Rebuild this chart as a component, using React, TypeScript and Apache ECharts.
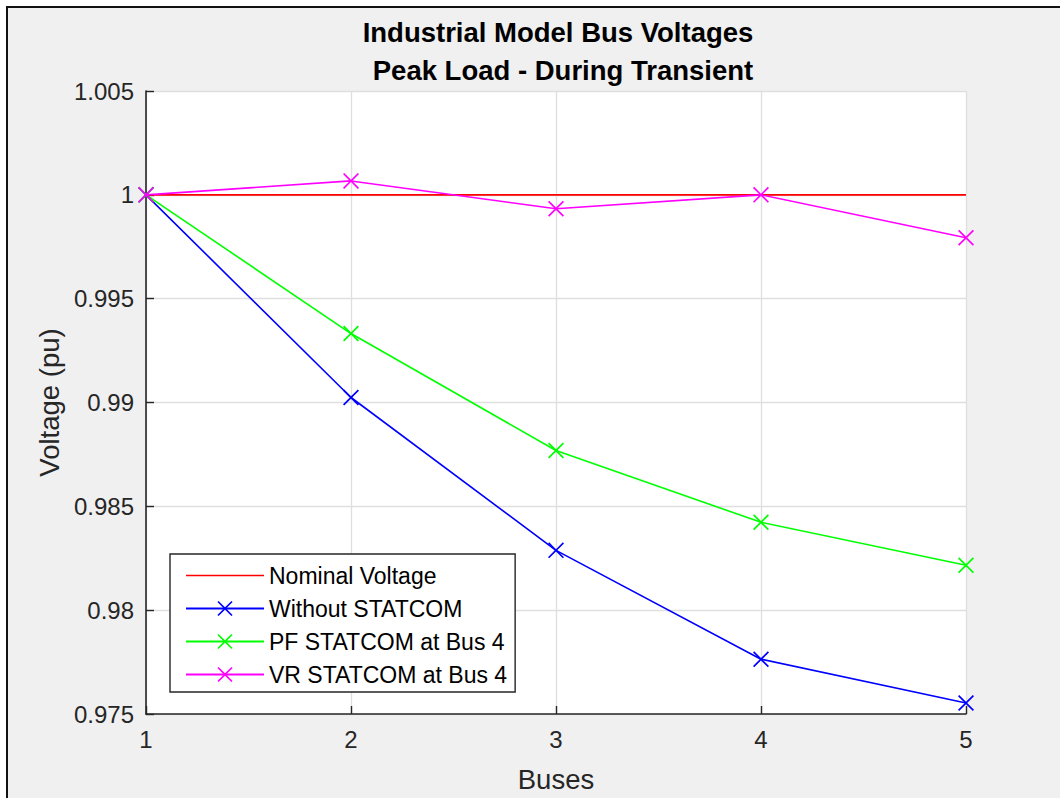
import React, { useEffect, useRef } from 'react';
import * as echarts from 'echarts';

const buses = [1, 2, 3, 4, 5];
const nominalVoltage = [1, 1, 1, 1, 1];
const withoutStatcom = [1, 0.99024, 0.98288, 0.97764, 0.97553];
const pfStatcom = [1, 0.99332, 0.98769, 0.98423, 0.98216];
const vrStatcom = [1, 1.00067, 0.99933, 1.0, 0.99793];
const seriesNames = ['Nominal Voltage', 'Without STATCOM', 'PF STATCOM at Bus 4', 'VR STATCOM at Bus 4'];
const seriesColors = ['#ff0000', '#0000ff', '#00ff00', '#ff00ff'];
const titleLines = ['Industrial Model Bus Voltages', 'Peak Load - During Transient'];
const xLabel = 'Buses';
const yLabel = 'Voltage (pu)';

const X_SYMBOL = 'path://M0,0.75L0.75,0L5,4.25L9.25,0L10,0.75L5.75,5L10,9.25L9.25,10L5,5.75L0.75,10L0,9.25L4.25,5Z';
const LINE_ICON = 'path://M0,0L78,0L78,1.6L0,1.6Z';
const FONT = '"Liberation Sans", Arial, Helvetica, sans-serif';
const INK = '#262626';

export default function App() {
  const ref = useRef<HTMLDivElement>(null);
  useEffect(() => {
    if (!ref.current) return;
    const chart = echarts.init(ref.current, undefined, { renderer: 'svg' });
    const allData = [nominalVoltage, withoutStatcom, pfStatcom, vrStatcom];
    const series = allData.map((vals, i) => ({
      name: seriesNames[i],
      type: 'line',
      data: buses.map((b, j) => [b, vals[j]]),
      symbol: i === 0 ? 'none' : X_SYMBOL,
      symbolSize: 16,
      showSymbol: i !== 0,
      lineStyle: { color: seriesColors[i], width: 1.6 },
      itemStyle: { color: seriesColors[i] },
      emphasis: { disabled: true },
      z: 3 + i,
    }));
    chart.setOption({
      animation: false,
      textStyle: { fontFamily: FONT },
      title: [
        {
          text: titleLines[0],
          left: 553,
          top: 13,
          textAlign: 'center',
          textStyle: { fontFamily: FONT, fontWeight: 'bold', fontSize: 27.5, color: '#000' },
        },
        {
          text: titleLines[1],
          left: 558,
          top: 51,
          textAlign: 'center',
          textStyle: { fontFamily: FONT, fontWeight: 'bold', fontSize: 27.5, color: '#000' },
        },
      ],
      grid: {
        left: 146,
        top: 91,
        width: 820,
        height: 624,
        show: true,
        backgroundColor: '#ffffff',
        borderWidth: 0,
      },
      legend: {
        orient: 'vertical',
        left: 170,
        top: 554,
        padding: [10, 8, 6, 15],
        itemWidth: 78,
        itemHeight: 19,
        itemGap: 10,
        backgroundColor: '#ffffff',
        borderColor: INK,
        borderWidth: 1.4,
        borderRadius: 0,
        selectedMode: false,
        textStyle: { fontFamily: FONT, fontSize: 23, color: '#000', lineHeight: 23 },
        data: seriesNames.map((n, i) => (i === 0 ? { name: n, icon: LINE_ICON } : { name: n })),
      },
      xAxis: {
        type: 'value',
        min: 1,
        max: 5,
        interval: 1,
        name: xLabel,
        nameLocation: 'middle',
        nameGap: 51,
        nameTextStyle: { fontFamily: FONT, fontSize: 27.5, color: INK },
        axisLine: { show: true, lineStyle: { color: INK, width: 1.6 } },
        axisTick: { show: true, inside: true, length: 8, lineStyle: { color: INK, width: 1.4 } },
        axisLabel: { fontFamily: FONT, fontSize: 24, color: INK, margin: 13 },
        splitLine: { show: true, lineStyle: { color: '#dfdfdf', width: 1.3 } },
      },
      yAxis: {
        type: 'value',
        min: 0.975,
        max: 1.005,
        interval: 0.005,
        name: yLabel,
        nameLocation: 'middle',
        nameRotate: 90,
        nameGap: 83,
        nameTextStyle: { fontFamily: FONT, fontSize: 27.5, color: INK },
        axisLine: { show: true, lineStyle: { color: INK, width: 1.6 } },
        axisTick: { show: true, inside: true, length: 8, lineStyle: { color: INK, width: 1.4 } },
        axisLabel: {
          fontFamily: FONT,
          fontSize: 24,
          color: INK,
          margin: 12,
          formatter: (v: number) => String(parseFloat(v.toFixed(3))),
        },
        splitLine: { show: true, lineStyle: { color: '#dfdfdf', width: 1.3 } },
      },
      series,
    });
    return () => chart.dispose();
  }, []);

  return (
    <div style={{ position: 'fixed', left: 0, top: 0, width: 1060, height: 798, background: '#ffffff', overflow: 'hidden' }}>
      <div
        style={{
          position: 'absolute',
          left: 6,
          top: 6,
          width: 1060,
          height: 798,
          background: '#f0f0f0',
          borderLeft: '2px solid #111',
          borderTop: '2px solid #111',
        }}
      />
      <div ref={ref} style={{ position: 'absolute', left: 0, top: 0, width: 1060, height: 798 }} />
    </div>
  );
}
